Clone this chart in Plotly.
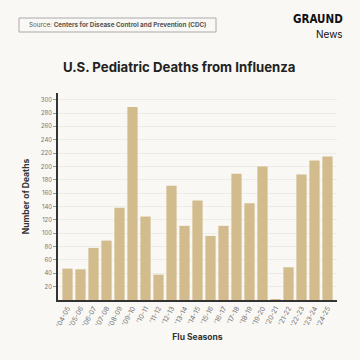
import plotly.graph_objects as go

seasons = ["'04-05", "'05-06", "'06-07", "'07-08", "'08-09", "'09-10", "'10-11",
           "'11-12", "'12-13", "'13-14", "'14-15", "'15-16", "'16-17", "'17-18",
           "'18-19", "'19-20", "'20-21", "'21-22", "'22-23", "'23-24", "'24-25"]
deaths = [47, 46, 78, 89, 138, 289, 125, 38, 171, 111, 149, 96, 111, 189,
          145, 200, 1, 49, 188, 209, 215]
y_ticks = list(range(20, 301, 20))

BG = "#F9F8F4"
BAR = "#D2BC8E"
FONT = "Inter, Liberation Sans, sans-serif"

L, R, T, B = 58, 23, 93, 60
PW, PH = 360 - L - R, 360 - T - B

def px(x):
    return (x - L) / PW

def py(y):
    return (360 - B - y) / PH

fig = go.Figure(go.Bar(x=seasons, y=deaths, marker=dict(color=BAR, line=dict(width=0)),
                       width=0.79))

fig.update_layout(
    width=360, height=360,
    margin=dict(l=L, r=R, t=T, b=B, autoexpand=False),
    paper_bgcolor=BG, plot_bgcolor=BG,
    font=dict(family=FONT, color="#333"),
    showlegend=False,
    bargap=0.2,
)
fig.update_xaxes(
    type="category", range=[-0.73, 20.73], automargin=False,
    tickangle=-62, tickfont=dict(size=6.8, color="#777"),
    showline=True, linecolor="#333", linewidth=1.5,
    ticks="", showgrid=False,
    title=dict(text="<b>Flu Seasons</b>", font=dict(size=8.5, color="#333"), standoff=6),
)
fig.update_yaxes(
    range=[0, 310], tickvals=y_ticks, ticktext=[str(v) for v in y_ticks], automargin=False,
    tickfont=dict(size=6, color="#777"),
    showline=True, linecolor="#333", linewidth=1.5,
    ticks="outside", ticklen=3, tickcolor="#999", tickwidth=0.6,
    showgrid=True, gridcolor="#ECEBE6", gridwidth=0.6,
    zeroline=False,
    title=dict(text="<b>Number of Deaths</b>", font=dict(size=8.5, color="#333"), standoff=10),
)

shapes = [dict(type="rect", xref="paper", yref="paper",
               x0=px(19), x1=px(216), y0=py(32), y1=py(18),
               line=dict(color="#AAAAAA", width=1), fillcolor=BG, layer="above")]
fig.update_layout(shapes=shapes)

annotations = [
    dict(text="Source: <b>Centers for Disease Control and Prevention (CDC)</b>",
         xref="paper", yref="paper", x=px(117.5), y=py(25), xanchor="center", yanchor="middle",
         showarrow=False, font=dict(size=6.3, color="#555", family=FONT)),
    dict(text="<b>U.S. Pediatric Deaths from Influenza</b>",
         xref="paper", yref="paper", x=px(179), y=py(67), xanchor="center", yanchor="middle",
         showarrow=False, font=dict(size=13.2, color="#222", family=FONT)),
    dict(text="<b>GRAUND</b>",
         xref="paper", yref="paper", x=px(345), y=py(19), xanchor="right", yanchor="middle",
         showarrow=False, font=dict(size=11.5, color="#111", family="DejaVu Sans Condensed, sans-serif")),
    dict(text="News",
         xref="paper", yref="paper", x=px(345), y=py(34), xanchor="right", yanchor="middle",
         showarrow=False, font=dict(size=10, color="#111", family=FONT)),
]
fig.update_layout(annotations=annotations)

fig.write_html("out.html", config={"displayModeBar": False},
               post_script="document.body.style.margin='0';document.body.style.background='%s';" % BG)
